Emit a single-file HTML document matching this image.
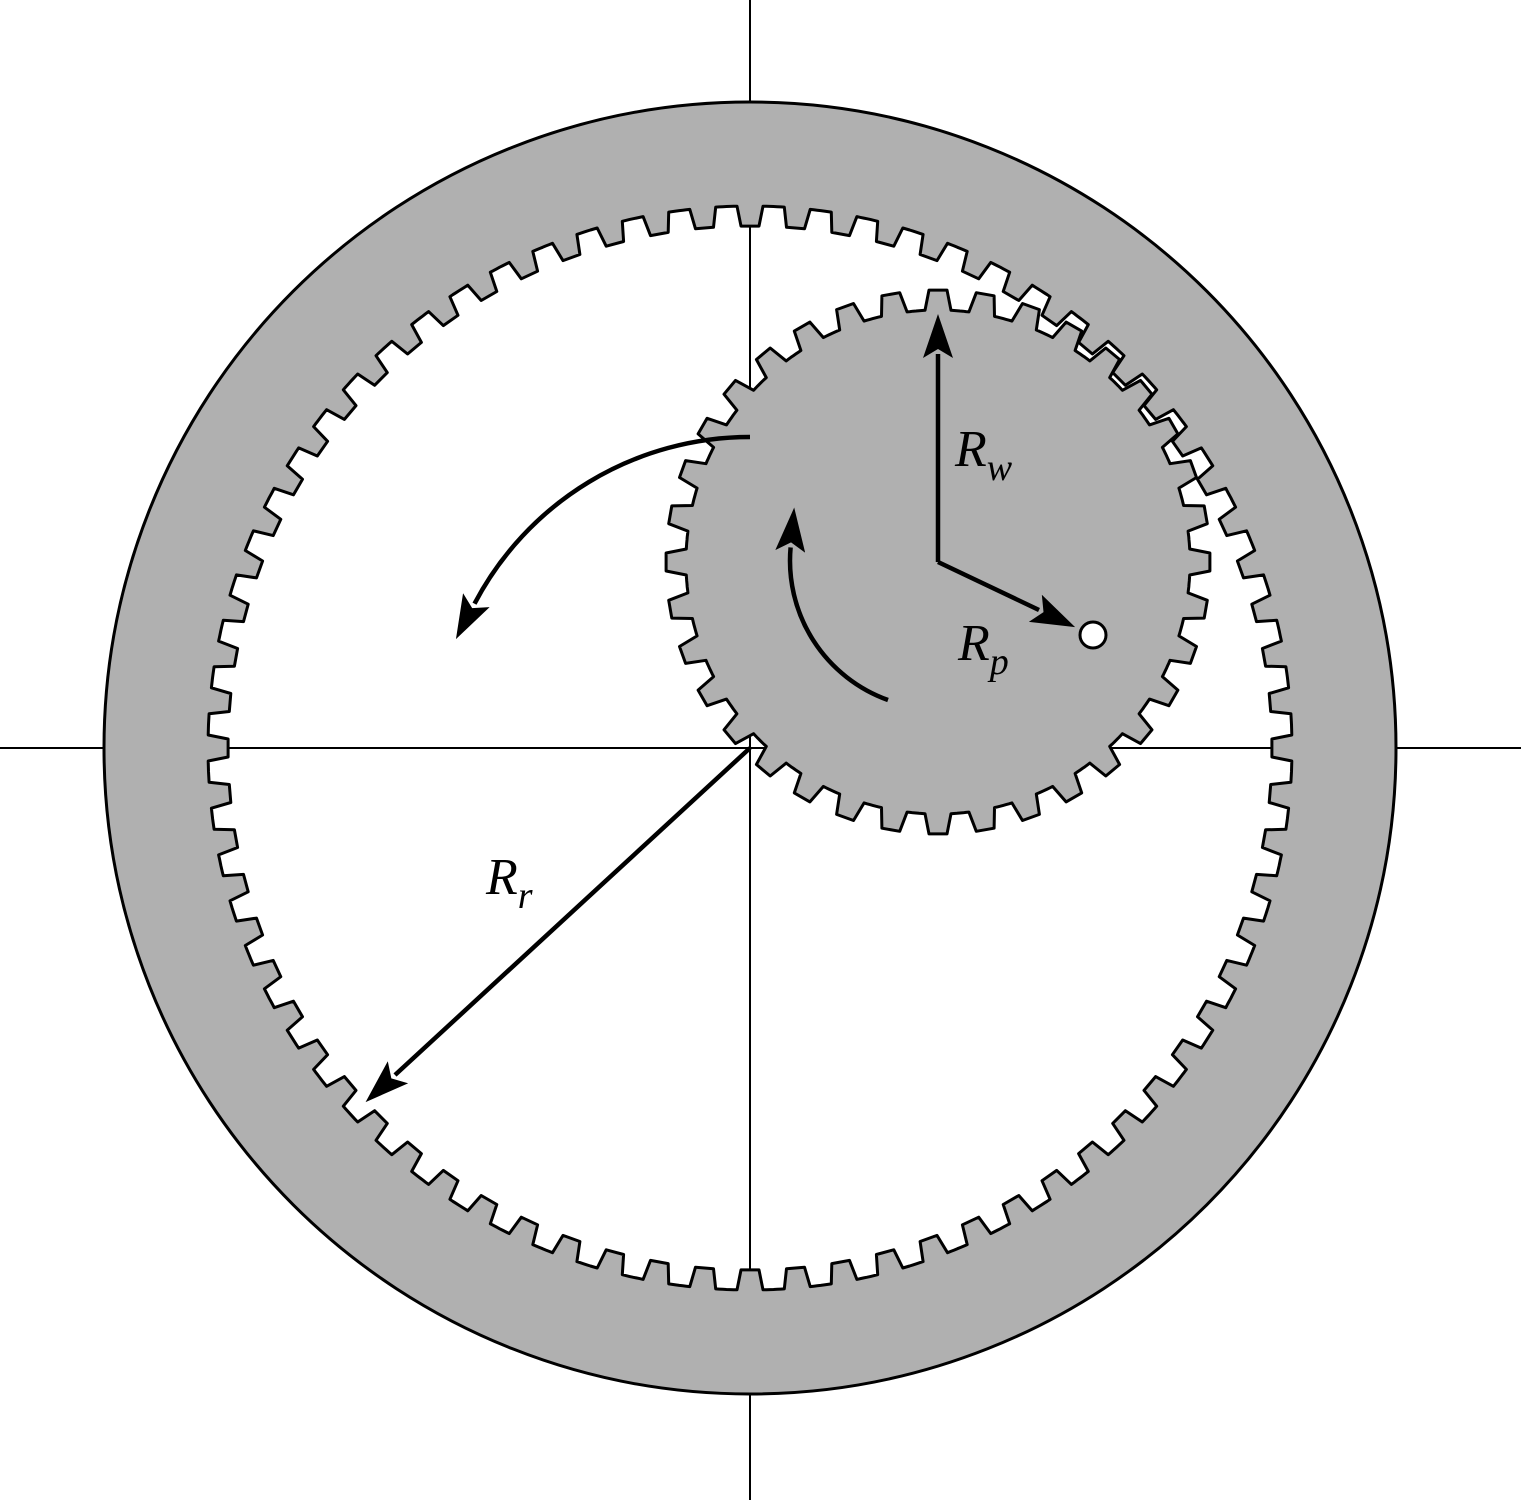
<!DOCTYPE html>
<html><head><meta charset="utf-8"><style>html,body{margin:0;padding:0;background:#fff}svg{display:block}</style></head>
<body>
<svg id="s" width="1521" height="1500" viewBox="0 0 1521 1500" xmlns="http://www.w3.org/2000/svg">
<defs>
<marker id="ah" markerUnits="userSpaceOnUse" markerWidth="46" markerHeight="30" refX="4" refY="15" orient="auto" viewBox="0 0 46 30">
<path d="M0,0 L44,15 L0,30 L9,15 Z" fill="#000"/>
</marker>
</defs>
<line x1="750" y1="0" x2="750" y2="1500" stroke="#000" stroke-width="2"/>
<line x1="0" y1="748" x2="1521" y2="748" stroke="#000" stroke-width="2"/>
<path id="ring" fill="#b0b0b0" fill-rule="evenodd" stroke="#000" stroke-width="3" stroke-linejoin="round"/>
<path id="pin" fill="#b0b0b0" stroke="#000" stroke-width="3" stroke-linejoin="round"/>
<path d="M750,437 A311,311 0 0 0 474.5,603.7" fill="none" stroke="#000" stroke-width="4.5" marker-end="url(#ah)"/>
<path d="M888,700 A148,148 0 0 1 790.6,547.4" fill="none" stroke="#000" stroke-width="4.5" marker-end="url(#ah)"/>
<line x1="938" y1="562" x2="938" y2="354" stroke="#000" stroke-width="4.5" marker-end="url(#ah)"/>
<line x1="938" y1="562" x2="1039" y2="610" stroke="#000" stroke-width="4.5" marker-end="url(#ah)"/>
<line x1="750" y1="748" x2="395" y2="1075" stroke="#000" stroke-width="4.5" marker-end="url(#ah)"/>
<circle cx="1093" cy="635" r="13" fill="#fff" stroke="#000" stroke-width="3"/>
<g font-family="'Liberation Serif', serif" font-style="italic" fill="#000">
<text x="955" y="466" font-size="52">R<tspan font-size="38" dy="14">w</tspan></text>
<text x="958" y="660" font-size="52">R<tspan font-size="38" dy="14">p</tspan></text>
<text x="486" y="894" font-size="52">R<tspan font-size="38" dy="14">r</tspan></text>
</g>
</svg>
<script>
function gear(cx,cy,N,rRoot,rTip,wRoot,wTip){
  var d="",p=2*Math.PI/N;
  for(var i=0;i<N;i++){
    var t=-Math.PI/2+i*p;
    var hr=wRoot/2/rRoot, ht=wTip/2/rTip;
    var pts=[[rRoot,t-hr],[rTip,t-ht],[rTip,t+ht],[rRoot,t+hr]];
    var a0=t+hr,a1=t+p-hr;
    for(var k=1;k<6;k++){pts.push([rRoot,a0+(a1-a0)*k/6]);}
    for(var j=0;j<pts.length;j++){
      var x=cx+pts[j][0]*Math.cos(pts[j][1]),y=cy+pts[j][0]*Math.sin(pts[j][1]);
      d+=(i==0&&j==0?"M":"L")+x.toFixed(1)+","+y.toFixed(1);
    }
  }
  return d+"Z";
}
var outer="M104,748 A646,646 0 1 0 1396,748 A646,646 0 1 0 104,748 Z";
document.getElementById("ring").setAttribute("d",outer+gear(750,748,72,542,522,26,18));
document.getElementById("pin").setAttribute("d",gear(938,562,36,252,272,26,18));
</script>
</body></html>
